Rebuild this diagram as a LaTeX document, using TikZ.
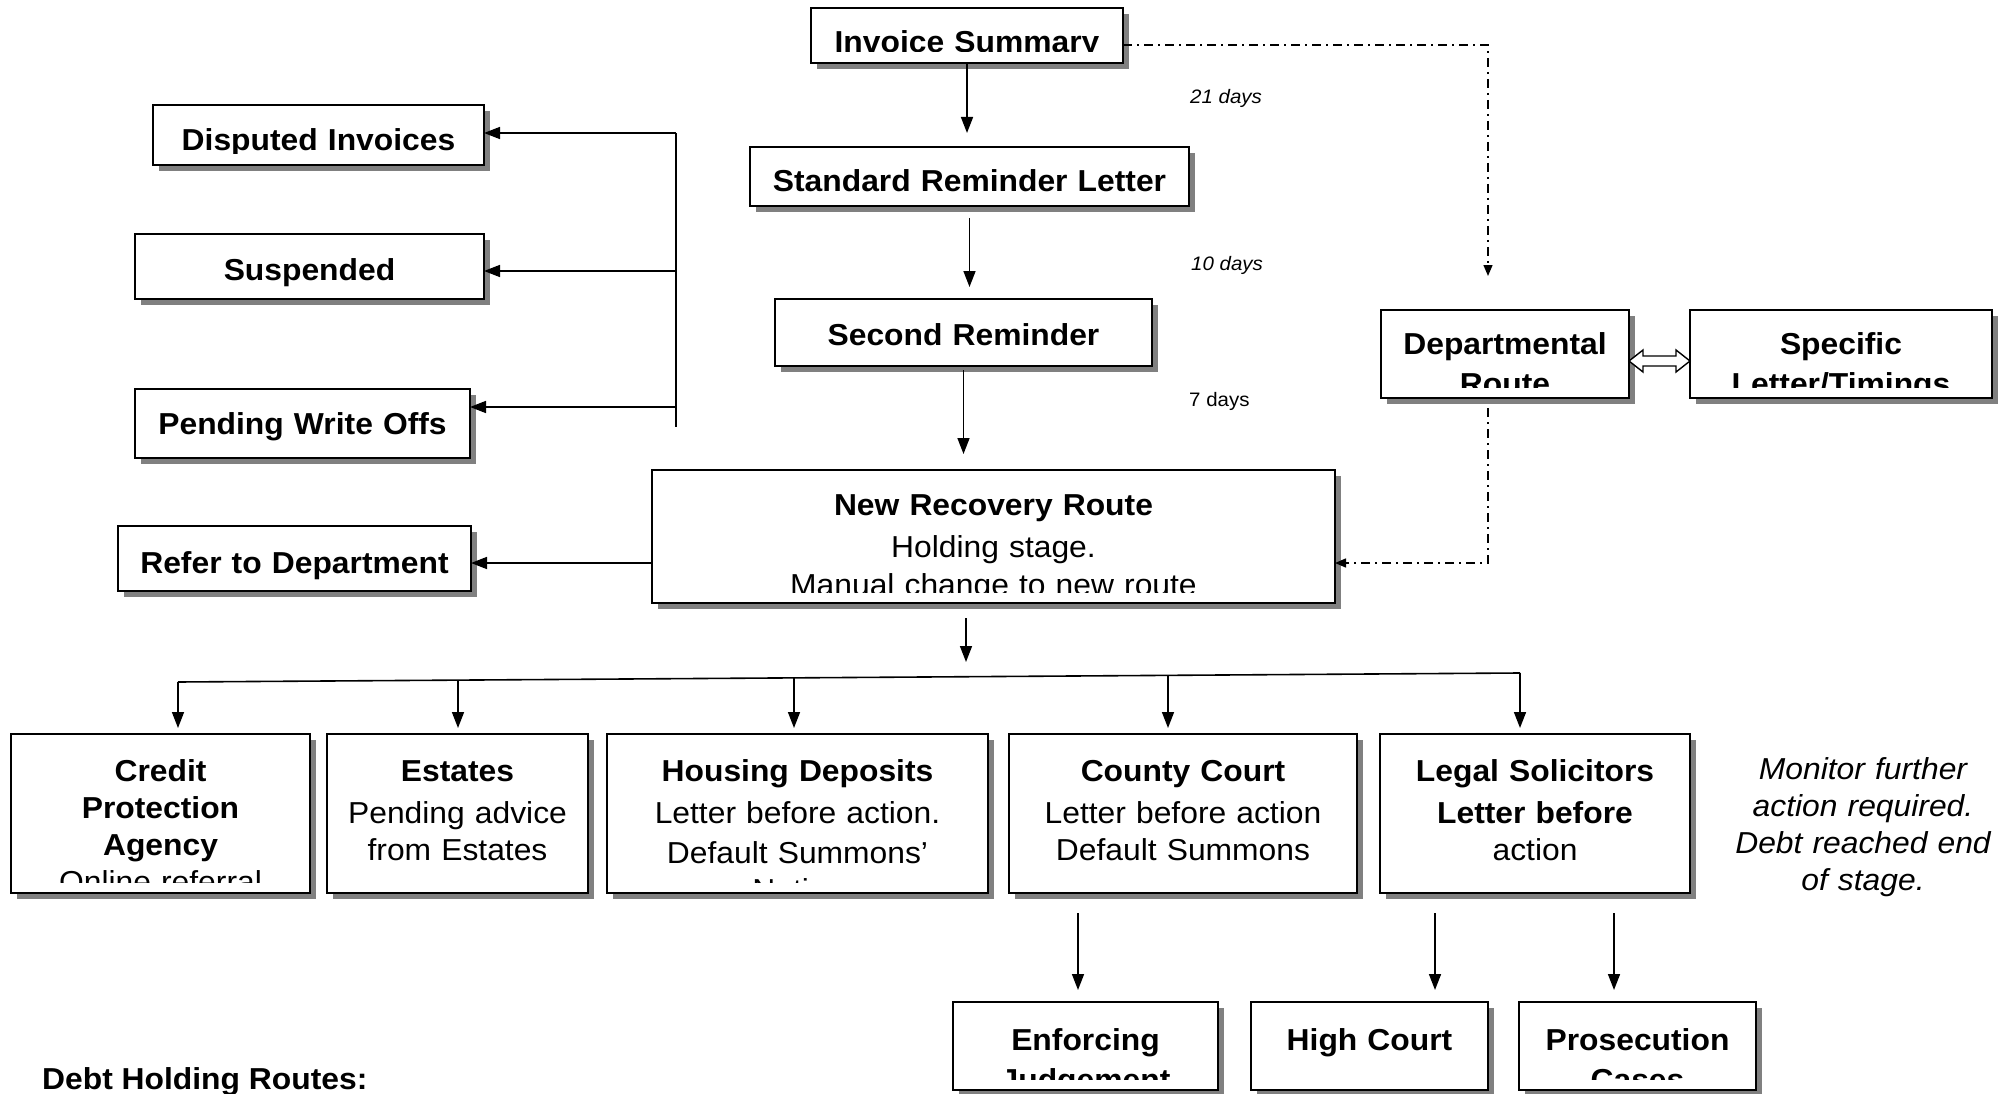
\documentclass[tikz,border=0pt]{standalone}
\usepackage{fontspec}
\setmainfont{Liberation Sans}[FakeStretch=1.05]
\usetikzlibrary{arrows.meta,shadows,calc}
\definecolor{shadowgray}{HTML}{808080}
\tikzset{
  boxst/.style={draw, line width=2pt, fill=white, inner sep=0pt, outer sep=0pt,
    drop shadow={shadow xshift=6pt, shadow yshift=-6pt, fill=shadowgray, opacity=1}},
  boxtxt/.style={inner sep=0pt, align=center, font=\fontsize{30.3}{37}\selectfont},
  arr/.style={line width=1.6pt, -{Triangle[length=16pt,width=12pt]}},
  conn/.style={line width=1.6pt},
  dd/.style={line width=1.4pt, dash pattern=on 9pt off 5pt on 2pt off 5pt},
  ddarr/.style={dd, -{Triangle[length=11pt,width=9pt]}},
  days/.style={font=\fontsize{19.5}{22}\selectfont, inner sep=0pt, anchor=base west},
}
\newcommand{\cbox}[7]{%
  \pgfmathsetmacro{\cbW}{#4-#2}%
  \pgfmathsetmacro{\cbH}{#5-#3}%
  \pgfmathsetmacro{\cbX}{(#2+#4)/2}%
  \pgfmathsetmacro{\cbY}{(#3+#5)/2}%
  \pgfmathsetmacro{\cbT}{#4-#2-8}%
  \pgfmathsetmacro{\cbB}{#5-11}%
  \node[boxst, minimum width=\cbW pt, minimum height=\cbH pt] (#1) at (\cbX,\cbY) {};
  \begin{scope}
    \clip (#2,#3) rectangle (#4,\cbB);
    \node[boxtxt, text width=\cbT pt, anchor=base] (#1-t) at (\cbX,#6) {#7};
  \end{scope}%
}
\begin{document}
\begin{tikzpicture}[x=1pt,y=-1pt]
\fill[white] (0,0) rectangle (2011,1094);
\useasboundingbox (0,0) rectangle (2011,1094);

% top chain
\cbox{inv}{811}{8}{1123}{63}{53}{\bfseries Invoice Summary}
\cbox{std}{750}{147}{1189}{206}{192}{\bfseries Standard Reminder Letter}
\cbox{sec}{775}{299}{1152}{366}{345}{\bfseries Second Reminder}
\cbox{nrr}{652}{470}{1335}{603}{515}{{\bfseries New Recovery Route}\\[5pt]Holding stage.\\[1pt]Manual change to new route}

% left holding boxes
\cbox{dis}{153}{105}{484}{165}{151}{\bfseries Disputed Invoices}
\cbox{sus}{135}{234}{484}{299}{280}{\bfseries Suspended}
\cbox{pwo}{135}{389}{470}{458}{434}{\bfseries Pending Write Offs}
\cbox{ref}{118}{526}{471}{591}{573}{\bfseries Refer to Department}

% departmental
\cbox{dep}{1381}{310}{1629}{398}{354}{\bfseries Departmental\\[3pt]Route}
\cbox{spe}{1690}{310}{1992}{398}{354}{\bfseries Specific\\[3pt]Letter/Timings}

% bottom row
\cbox{cpa}{11}{734}{310}{893}{781}{{\bfseries Credit\\Protection\\Agency}\\Online referral}
\cbox{est}{327}{734}{588}{893}{781}{{\bfseries Estates}\\[5pt]Pending advice\\from Estates}
\cbox{hou}{607}{734}{988}{893}{781}{{\bfseries Housing Deposits}\\[5pt]Letter before action.\\[3pt]Default Summons'\\Notice}
\cbox{cou}{1009}{734}{1357}{893}{781}{{\bfseries County Court}\\[5pt]Letter before action\\Default Summons}
\cbox{leg}{1380}{734}{1690}{893}{781}{{\bfseries Legal Solicitors}\\[5pt]{\bfseries Letter before}\\action}

% lowest row
\cbox{enf}{953}{1002}{1218}{1090}{1050}{\bfseries Enforcing\\[3pt]Judgement}
\cbox{hig}{1251}{1002}{1488}{1090}{1050}{\bfseries High Court}
\cbox{pro}{1519}{1002}{1756}{1090}{1050}{\bfseries Prosecution\\[3pt]Cases}

% labels
\node[days] (d21) at (1190,104) {\itshape 21 days};
\node[days] (d10) at (1191,270) {\itshape 10 days};
\node[days] (d7) at (1189,406) {7 days};
\node[font=\itshape\fontsize{30.3}{37}\selectfont, align=center, text width=320pt, inner sep=0pt, anchor=base] (mon) at (1863,779)
  {Monitor further\\action required.\\Debt reached end\\of stage.};
\node[font=\bfseries\fontsize{30.3}{36}\selectfont, inner sep=0pt, anchor=base west] (dhr) at (42,1089) {Debt Holding Routes:};

% main vertical arrows
\draw[arr, shorten >=14pt] (inv.south) -- (inv.south |- std.north);
\draw[arr, shorten <=12pt, shorten >=12pt] (std.south) -- (std.south |- sec.north);
\draw[arr, shorten <=4pt, shorten >=16pt] (sec.south) -- (sec.south |- nrr.north);

% nrr to branch
\coordinate (nrrout) at (966,618);
\coordinate (split) at (966,662);
\draw[arr] (nrrout) -- (split);
\coordinate (bl) at (178,682);
\coordinate (br) at (1520,673);
\draw[conn] (bl) -- (br);
\coordinate (b1) at (178,682);
\coordinate (b2) at (458,680);
\coordinate (b3) at (794,678);
\coordinate (b4) at (1168,675);
\coordinate (b5) at (1520,673);
\draw[arr, shorten >=6pt] (b1) -- (b1 |- cpa.north);
\draw[arr, shorten >=6pt] (b2) -- (b2 |- est.north);
\draw[arr, shorten >=6pt] (b3) -- (b3 |- hou.north);
\draw[arr, shorten >=6pt] (b4) -- (b4 |- cou.north);
\draw[arr, shorten >=6pt] (b5) -- (b5 |- leg.north);

% lower arrows
\coordinate (c1) at (1078,913);
\coordinate (c2) at (1435,913);
\coordinate (c3) at (1614,913);
\draw[arr, shorten >=12pt] (c1) -- (c1 |- enf.north);
\draw[arr, shorten >=12pt] (c2) -- (c2 |- hig.north);
\draw[arr, shorten >=12pt] (c3) -- (c3 |- pro.north);

% holding bracket
\coordinate (k0) at (676,133);
\coordinate (k1) at (676,271);
\coordinate (k2) at (676,407);
\coordinate (k3) at (676,427);
\draw[conn] (k0) -- (k3);
\draw[arr] (k0) -- (k0 -| dis.east);
\draw[arr] (k1) -- (k1 -| sus.east);
\draw[arr] (k2) -- (k2 -| pwo.east);

% refer to department
\coordinate (q3) at (1488,563);
\draw[arr] (nrr.west |- q3) -- (ref.east |- q3);

% dash-dot route
\coordinate (q1) at (1488,45);
\coordinate (q2) at (1488,276);
\draw[ddarr] (inv.east |- q1) -- (q1) -- (q2);
\coordinate (q4) at (1488,408);
\draw[ddarr] (q4) -- (q3) -- (q3 -| nrr.east);

% hollow double arrow
\coordinate (da) at ($(dep.east)+(0,7)$);
\coordinate (db) at ($(spe.west)+(0,7)$);
\draw[line width=1.4pt, fill=white] (da) -- ++(14,-11) -- ++(0,6) -- ($(db)+(-14,-5)$) -- ++(0,-6) -- (db)
  -- ++(-14,11) -- ++(0,-6) -- ($(da)+(14,5)$) -- ++(0,6) -- cycle;
\end{tikzpicture}
\end{document}
